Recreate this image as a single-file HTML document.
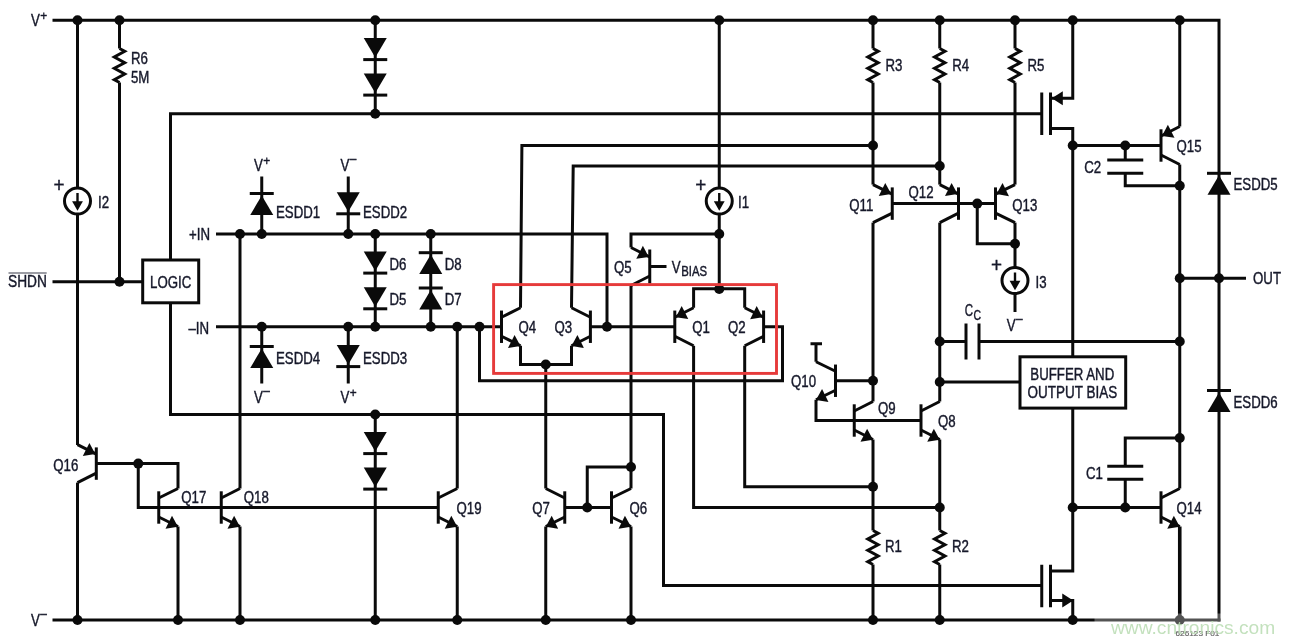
<!DOCTYPE html>
<html><head><meta charset="utf-8"><title>Schematic</title>
<style>
html,body{margin:0;padding:0;background:#fff;}
svg{display:block;will-change:transform;}
text{font-family:"Liberation Sans",sans-serif;}
</style></head>
<body>
<svg width="1295" height="644" viewBox="0 0 1295 644">
<rect width="1295" height="644" fill="#fff"/>
<path d="M52.50 20.20 L1219.00 20.20 L1219.00 621.50" fill="none" stroke="#0a0a0a" stroke-width="3.0" stroke-linecap="butt" stroke-linejoin="miter"/>
<path d="M52.50 620.00 L1220.50 620.00" fill="none" stroke="#0a0a0a" stroke-width="3.0" stroke-linecap="butt" stroke-linejoin="miter"/>
<text transform="translate(31.00 25.80) scale(0.85 1)" font-size="15.6" fill="#16182a" text-anchor="start" font-weight="normal" stroke="#16182a" stroke-width="0.4" >V</text>
<text transform="translate(40.30 20.10) scale(0.88 1)" font-size="13.5" fill="#16182a" text-anchor="start" font-weight="normal" stroke="#16182a" stroke-width="0.4" >+</text>
<text transform="translate(31.00 626.00) scale(0.85 1)" font-size="15.6" fill="#16182a" text-anchor="start" font-weight="normal" stroke="#16182a" stroke-width="0.4" >V</text>
<text transform="translate(40.30 618.00) scale(0.88 1)" font-size="13.5" fill="#16182a" text-anchor="start" font-weight="normal" stroke="#16182a" stroke-width="0.4" >–</text>
<path d="M77.50 20.20 L77.50 445.00" fill="none" stroke="#0a0a0a" stroke-width="3.0" stroke-linecap="butt" stroke-linejoin="miter"/>
<circle cx="77.50" cy="201.00" r="13" fill="#fff" stroke="#0a0a0a" stroke-width="3"/>
<path d="M77.50 193.00 L77.50 203.00" fill="none" stroke="#0a0a0a" stroke-width="2.4" stroke-linecap="butt" stroke-linejoin="miter"/>
<polygon points="72.10,201.30 82.90,201.30 77.50,210.80" fill="#0a0a0a"/>
<text transform="translate(59.00 192.10) scale(0.9 1)" font-size="21" fill="#16182a" text-anchor="middle" font-weight="normal" stroke="#16182a" stroke-width="0.4" >+</text>
<text transform="translate(98.00 208.20) scale(0.85 1)" font-size="15.6" fill="#16182a" text-anchor="start" font-weight="normal" stroke="#16182a" stroke-width="0.4" >I2</text>
<path d="M119.50 20.20 L119.50 48.50" fill="none" stroke="#0a0a0a" stroke-width="3.0" stroke-linecap="butt" stroke-linejoin="miter"/>
<path d="M119.50 48.50 L124.70 51.30 L114.30 57.00 L124.70 62.70 L114.30 68.30 L124.70 74.00 L114.30 79.70 L119.50 82.50" fill="none" stroke="#0a0a0a" stroke-width="3.0" stroke-linecap="butt" stroke-linejoin="miter"/>
<path d="M119.50 82.50 L119.50 281.75" fill="none" stroke="#0a0a0a" stroke-width="3.0" stroke-linecap="butt" stroke-linejoin="miter"/>
<text transform="translate(131.00 64.10) scale(0.85 1)" font-size="15.6" fill="#16182a" text-anchor="start" font-weight="normal" stroke="#16182a" stroke-width="0.4" >R6</text>
<text transform="translate(131.00 83.10) scale(0.85 1)" font-size="15.6" fill="#16182a" text-anchor="start" font-weight="normal" stroke="#16182a" stroke-width="0.4" >5M</text>
<path d="M52.50 281.75 L142.70 281.75" fill="none" stroke="#0a0a0a" stroke-width="3.0" stroke-linecap="butt" stroke-linejoin="miter"/>
<text transform="translate(8.00 286.80) scale(0.88 1)" font-size="15.6" fill="#16182a" text-anchor="start" font-weight="normal" stroke="#16182a" stroke-width="0.4" >SHDN</text>
<path d="M8.50 273.00 L46.70 273.00" fill="none" stroke="#3a3c4a" stroke-width="1.2" stroke-linecap="butt" stroke-linejoin="miter"/>
<rect x="142.7" y="260" width="56" height="42.8" fill="#fff" stroke="#0a0a0a" stroke-width="3.0"/>
<text transform="translate(170.70 287.80) scale(0.85 1)" font-size="15.6" fill="#16182a" text-anchor="middle" font-weight="normal" stroke="#16182a" stroke-width="0.4" >LOGIC</text>
<path d="M1041.75 113.75 L170.50 113.75 L170.50 260.00" fill="none" stroke="#0a0a0a" stroke-width="3.0" stroke-linecap="butt" stroke-linejoin="miter"/>
<path d="M170.50 303.50 L170.50 414.50 L663.50 414.50 L663.50 585.50 L1041.75 585.50" fill="none" stroke="#0a0a0a" stroke-width="3.0" stroke-linecap="butt" stroke-linejoin="miter"/>
<path d="M375.25 20.20 L375.25 113.75" fill="none" stroke="#0a0a0a" stroke-width="3.0" stroke-linecap="butt" stroke-linejoin="miter"/>
<polygon points="363.75,38.00 386.75,38.00 375.25,57.50" fill="#0a0a0a"/>
<path d="M363.25 59.60 L387.25 59.60" fill="none" stroke="#0a0a0a" stroke-width="3.0" stroke-linecap="butt" stroke-linejoin="miter"/>
<polygon points="363.75,73.50 386.75,73.50 375.25,93.00" fill="#0a0a0a"/>
<path d="M363.25 95.10 L387.25 95.10" fill="none" stroke="#0a0a0a" stroke-width="3.0" stroke-linecap="butt" stroke-linejoin="miter"/>
<path d="M375.25 414.50 L375.25 620.00" fill="none" stroke="#0a0a0a" stroke-width="3.0" stroke-linecap="butt" stroke-linejoin="miter"/>
<polygon points="363.75,432.00 386.75,432.00 375.25,451.50" fill="#0a0a0a"/>
<path d="M363.25 453.60 L387.25 453.60" fill="none" stroke="#0a0a0a" stroke-width="3.0" stroke-linecap="butt" stroke-linejoin="miter"/>
<polygon points="363.75,467.50 386.75,467.50 375.25,487.00" fill="#0a0a0a"/>
<path d="M363.25 489.10 L387.25 489.10" fill="none" stroke="#0a0a0a" stroke-width="3.0" stroke-linecap="butt" stroke-linejoin="miter"/>
<path d="M216.00 234.00 L607.00 234.00 L607.00 326.75" fill="none" stroke="#0a0a0a" stroke-width="3.0" stroke-linecap="butt" stroke-linejoin="miter"/>
<text transform="translate(189.00 240.30) scale(0.85 1)" font-size="15.6" fill="#16182a" text-anchor="start" font-weight="normal" stroke="#16182a" stroke-width="0.4" >+IN</text>
<path d="M216.00 326.75 L501.50 326.75" fill="none" stroke="#0a0a0a" stroke-width="3.0" stroke-linecap="butt" stroke-linejoin="miter"/>
<text transform="translate(188.50 333.70) scale(0.85 1)" font-size="15.6" fill="#16182a" text-anchor="start" font-weight="normal" stroke="#16182a" stroke-width="0.4" >–IN</text>
<path d="M240.00 234.00 L240.00 488.50" fill="none" stroke="#0a0a0a" stroke-width="3.0" stroke-linecap="butt" stroke-linejoin="miter"/>
<path d="M261.75 176.50 L261.75 234.00" fill="none" stroke="#0a0a0a" stroke-width="3.0" stroke-linecap="butt" stroke-linejoin="miter"/>
<path d="M249.75 193.50 L273.75 193.50" fill="none" stroke="#0a0a0a" stroke-width="3.0" stroke-linecap="butt" stroke-linejoin="miter"/>
<polygon points="261.75,195.40 250.25,214.90 273.25,214.90" fill="#0a0a0a"/>
<text transform="translate(276.00 217.80) scale(0.85 1)" font-size="15.6" fill="#16182a" text-anchor="start" font-weight="normal" stroke="#16182a" stroke-width="0.4" >ESDD1</text>
<text transform="translate(254.00 170.50) scale(0.85 1)" font-size="15.6" fill="#16182a" text-anchor="start" font-weight="normal" stroke="#16182a" stroke-width="0.4" >V</text>
<text transform="translate(263.30 164.80) scale(0.88 1)" font-size="13.5" fill="#16182a" text-anchor="start" font-weight="normal" stroke="#16182a" stroke-width="0.4" >+</text>
<path d="M348.25 176.50 L348.25 234.00" fill="none" stroke="#0a0a0a" stroke-width="3.0" stroke-linecap="butt" stroke-linejoin="miter"/>
<polygon points="336.75,192.20 359.75,192.20 348.25,211.70" fill="#0a0a0a"/>
<path d="M336.25 213.80 L360.25 213.80" fill="none" stroke="#0a0a0a" stroke-width="3.0" stroke-linecap="butt" stroke-linejoin="miter"/>
<text transform="translate(363.00 217.80) scale(0.85 1)" font-size="15.6" fill="#16182a" text-anchor="start" font-weight="normal" stroke="#16182a" stroke-width="0.4" >ESDD2</text>
<text transform="translate(340.50 170.50) scale(0.85 1)" font-size="15.6" fill="#16182a" text-anchor="start" font-weight="normal" stroke="#16182a" stroke-width="0.4" >V</text>
<text transform="translate(349.80 162.50) scale(0.88 1)" font-size="13.5" fill="#16182a" text-anchor="start" font-weight="normal" stroke="#16182a" stroke-width="0.4" >–</text>
<path d="M261.75 326.75 L261.75 383.50" fill="none" stroke="#0a0a0a" stroke-width="3.0" stroke-linecap="butt" stroke-linejoin="miter"/>
<path d="M249.75 346.50 L273.75 346.50" fill="none" stroke="#0a0a0a" stroke-width="3.0" stroke-linecap="butt" stroke-linejoin="miter"/>
<polygon points="261.75,348.40 250.25,367.90 273.25,367.90" fill="#0a0a0a"/>
<text transform="translate(276.00 363.80) scale(0.85 1)" font-size="15.6" fill="#16182a" text-anchor="start" font-weight="normal" stroke="#16182a" stroke-width="0.4" >ESDD4</text>
<text transform="translate(254.00 403.00) scale(0.85 1)" font-size="15.6" fill="#16182a" text-anchor="start" font-weight="normal" stroke="#16182a" stroke-width="0.4" >V</text>
<text transform="translate(263.30 395.00) scale(0.88 1)" font-size="13.5" fill="#16182a" text-anchor="start" font-weight="normal" stroke="#16182a" stroke-width="0.4" >–</text>
<path d="M348.25 326.75 L348.25 383.50" fill="none" stroke="#0a0a0a" stroke-width="3.0" stroke-linecap="butt" stroke-linejoin="miter"/>
<polygon points="336.75,345.00 359.75,345.00 348.25,364.50" fill="#0a0a0a"/>
<path d="M336.25 366.60 L360.25 366.60" fill="none" stroke="#0a0a0a" stroke-width="3.0" stroke-linecap="butt" stroke-linejoin="miter"/>
<text transform="translate(363.00 363.80) scale(0.85 1)" font-size="15.6" fill="#16182a" text-anchor="start" font-weight="normal" stroke="#16182a" stroke-width="0.4" >ESDD3</text>
<text transform="translate(340.50 403.00) scale(0.85 1)" font-size="15.6" fill="#16182a" text-anchor="start" font-weight="normal" stroke="#16182a" stroke-width="0.4" >V</text>
<text transform="translate(349.80 397.30) scale(0.88 1)" font-size="13.5" fill="#16182a" text-anchor="start" font-weight="normal" stroke="#16182a" stroke-width="0.4" >+</text>
<path d="M375.25 234.00 L375.25 326.75" fill="none" stroke="#0a0a0a" stroke-width="3.0" stroke-linecap="butt" stroke-linejoin="miter"/>
<polygon points="363.75,251.50 386.75,251.50 375.25,271.00" fill="#0a0a0a"/>
<path d="M363.25 273.10 L387.25 273.10" fill="none" stroke="#0a0a0a" stroke-width="3.0" stroke-linecap="butt" stroke-linejoin="miter"/>
<polygon points="363.75,287.20 386.75,287.20 375.25,306.70" fill="#0a0a0a"/>
<path d="M363.25 308.80 L387.25 308.80" fill="none" stroke="#0a0a0a" stroke-width="3.0" stroke-linecap="butt" stroke-linejoin="miter"/>
<text transform="translate(389.50 269.80) scale(0.85 1)" font-size="15.6" fill="#16182a" text-anchor="start" font-weight="normal" stroke="#16182a" stroke-width="0.4" >D6</text>
<text transform="translate(389.50 305.00) scale(0.85 1)" font-size="15.6" fill="#16182a" text-anchor="start" font-weight="normal" stroke="#16182a" stroke-width="0.4" >D5</text>
<path d="M430.75 234.00 L430.75 326.75" fill="none" stroke="#0a0a0a" stroke-width="3.0" stroke-linecap="butt" stroke-linejoin="miter"/>
<path d="M418.75 252.70 L442.75 252.70" fill="none" stroke="#0a0a0a" stroke-width="3.0" stroke-linecap="butt" stroke-linejoin="miter"/>
<polygon points="430.75,254.60 419.25,274.10 442.25,274.10" fill="#0a0a0a"/>
<path d="M418.75 288.00 L442.75 288.00" fill="none" stroke="#0a0a0a" stroke-width="3.0" stroke-linecap="butt" stroke-linejoin="miter"/>
<polygon points="430.75,289.90 419.25,309.40 442.25,309.40" fill="#0a0a0a"/>
<text transform="translate(444.70 269.80) scale(0.85 1)" font-size="15.6" fill="#16182a" text-anchor="start" font-weight="normal" stroke="#16182a" stroke-width="0.4" >D8</text>
<text transform="translate(444.70 305.00) scale(0.85 1)" font-size="15.6" fill="#16182a" text-anchor="start" font-weight="normal" stroke="#16182a" stroke-width="0.4" >D7</text>
<path d="M457.25 326.75 L457.25 488.50" fill="none" stroke="#0a0a0a" stroke-width="3.0" stroke-linecap="butt" stroke-linejoin="miter"/>
<path d="M479.50 326.75 L479.50 380.75 L782.50 380.75 L782.50 326.75 L763.60 326.75" fill="none" stroke="#0a0a0a" stroke-width="3.0" stroke-linecap="butt" stroke-linejoin="miter"/>
<path d="M501.50 310.55 L501.50 342.95" fill="none" stroke="#0a0a0a" stroke-width="3.0" stroke-linecap="butt" stroke-linejoin="miter"/>
<path d="M520.50 307.75 L501.50 317.25" fill="none" stroke="#0a0a0a" stroke-width="3.0" stroke-linecap="butt" stroke-linejoin="miter"/>
<path d="M520.50 345.75 L501.50 336.25" fill="none" stroke="#0a0a0a" stroke-width="3.0" stroke-linecap="butt" stroke-linejoin="miter"/>
<polygon points="520.50,346.05 508.02,347.97 514.55,334.91" fill="#0a0a0a"/>
<path d="M520.50 307.75 L521.90 145.50 L873.00 145.50" fill="none" stroke="#0a0a0a" stroke-width="3.0" stroke-linecap="butt" stroke-linejoin="miter"/>
<text transform="translate(518.50 332.50) scale(0.85 1)" font-size="15.6" fill="#16182a" text-anchor="start" font-weight="normal" stroke="#16182a" stroke-width="0.4" >Q4</text>
<path d="M590.40 310.55 L590.40 342.95" fill="none" stroke="#0a0a0a" stroke-width="3.0" stroke-linecap="butt" stroke-linejoin="miter"/>
<path d="M571.50 307.75 L590.40 317.25" fill="none" stroke="#0a0a0a" stroke-width="3.0" stroke-linecap="butt" stroke-linejoin="miter"/>
<path d="M571.50 345.75 L590.40 336.25" fill="none" stroke="#0a0a0a" stroke-width="3.0" stroke-linecap="butt" stroke-linejoin="miter"/>
<polygon points="571.50,346.05 577.42,334.90 583.98,347.95" fill="#0a0a0a"/>
<path d="M571.50 307.75 L573.20 166.00 L939.75 166.00" fill="none" stroke="#0a0a0a" stroke-width="3.0" stroke-linecap="butt" stroke-linejoin="miter"/>
<text transform="translate(554.50 332.50) scale(0.85 1)" font-size="15.6" fill="#16182a" text-anchor="start" font-weight="normal" stroke="#16182a" stroke-width="0.4" >Q3</text>
<path d="M520.50 345.75 L520.50 364.50 L571.50 364.50 L571.50 345.75" fill="none" stroke="#0a0a0a" stroke-width="3.0" stroke-linecap="butt" stroke-linejoin="miter"/>
<path d="M545.75 364.50 L545.75 488.50" fill="none" stroke="#0a0a0a" stroke-width="3.0" stroke-linecap="butt" stroke-linejoin="miter"/>
<path d="M590.40 326.75 L674.80 326.75" fill="none" stroke="#0a0a0a" stroke-width="3.0" stroke-linecap="butt" stroke-linejoin="miter"/>
<path d="M674.80 310.55 L674.80 342.95" fill="none" stroke="#0a0a0a" stroke-width="3.0" stroke-linecap="butt" stroke-linejoin="miter"/>
<path d="M693.60 307.75 L674.80 317.25" fill="none" stroke="#0a0a0a" stroke-width="3.0" stroke-linecap="butt" stroke-linejoin="miter"/>
<path d="M693.60 345.75 L674.80 336.25" fill="none" stroke="#0a0a0a" stroke-width="3.0" stroke-linecap="butt" stroke-linejoin="miter"/>
<polygon points="675.80,317.25 681.70,306.09 688.29,319.12" fill="#0a0a0a"/>
<path d="M763.60 310.55 L763.60 342.95" fill="none" stroke="#0a0a0a" stroke-width="3.0" stroke-linecap="butt" stroke-linejoin="miter"/>
<path d="M744.70 307.75 L763.60 317.25" fill="none" stroke="#0a0a0a" stroke-width="3.0" stroke-linecap="butt" stroke-linejoin="miter"/>
<path d="M744.70 345.75 L763.60 336.25" fill="none" stroke="#0a0a0a" stroke-width="3.0" stroke-linecap="butt" stroke-linejoin="miter"/>
<polygon points="762.60,317.25 750.12,319.15 756.68,306.10" fill="#0a0a0a"/>
<path d="M693.60 307.75 L693.60 288.70 L744.70 288.70 L744.70 307.75" fill="none" stroke="#0a0a0a" stroke-width="3.0" stroke-linecap="butt" stroke-linejoin="miter"/>
<text transform="translate(692.30 333.20) scale(0.85 1)" font-size="15.6" fill="#16182a" text-anchor="start" font-weight="normal" stroke="#16182a" stroke-width="0.4" >Q1</text>
<text transform="translate(728.00 333.20) scale(0.85 1)" font-size="15.6" fill="#16182a" text-anchor="start" font-weight="normal" stroke="#16182a" stroke-width="0.4" >Q2</text>
<path d="M693.60 345.75 L693.60 507.50 L939.75 507.50" fill="none" stroke="#0a0a0a" stroke-width="3.0" stroke-linecap="butt" stroke-linejoin="miter"/>
<path d="M744.70 345.75 L744.70 486.75 L873.00 486.75" fill="none" stroke="#0a0a0a" stroke-width="3.0" stroke-linecap="butt" stroke-linejoin="miter"/>
<path d="M719.25 20.20 L719.25 289.00" fill="none" stroke="#0a0a0a" stroke-width="3.0" stroke-linecap="butt" stroke-linejoin="miter"/>
<circle cx="719.25" cy="201.00" r="13" fill="#fff" stroke="#0a0a0a" stroke-width="3"/>
<path d="M719.25 193.00 L719.25 203.00" fill="none" stroke="#0a0a0a" stroke-width="2.4" stroke-linecap="butt" stroke-linejoin="miter"/>
<polygon points="713.85,201.30 724.65,201.30 719.25,210.80" fill="#0a0a0a"/>
<text transform="translate(700.75 192.10) scale(0.9 1)" font-size="21" fill="#16182a" text-anchor="middle" font-weight="normal" stroke="#16182a" stroke-width="0.4" >+</text>
<text transform="translate(738.00 208.20) scale(0.85 1)" font-size="15.6" fill="#16182a" text-anchor="start" font-weight="normal" stroke="#16182a" stroke-width="0.4" >I1</text>
<path d="M719.25 234.00 L631.00 234.00 L631.00 247.50" fill="none" stroke="#0a0a0a" stroke-width="3.0" stroke-linecap="butt" stroke-linejoin="miter"/>
<path d="M649.75 249.50 L649.75 283.50" fill="none" stroke="#0a0a0a" stroke-width="3.0" stroke-linecap="butt" stroke-linejoin="miter"/>
<path d="M631.00 247.50 L649.75 257.00" fill="none" stroke="#0a0a0a" stroke-width="3.0" stroke-linecap="butt" stroke-linejoin="miter"/>
<path d="M631.00 285.50 L649.75 276.00" fill="none" stroke="#0a0a0a" stroke-width="3.0" stroke-linecap="butt" stroke-linejoin="miter"/>
<polygon points="648.75,257.00 636.26,258.86 642.86,245.83" fill="#0a0a0a"/>
<path d="M649.75 266.50 L666.50 266.50" fill="none" stroke="#0a0a0a" stroke-width="3.0" stroke-linecap="butt" stroke-linejoin="miter"/>
<path d="M631.00 285.50 L631.00 467.00" fill="none" stroke="#0a0a0a" stroke-width="3.0" stroke-linecap="butt" stroke-linejoin="miter"/>
<text transform="translate(614.00 272.80) scale(0.85 1)" font-size="15.6" fill="#16182a" text-anchor="start" font-weight="normal" stroke="#16182a" stroke-width="0.4" >Q5</text>
<text transform="translate(671.70 272.80) scale(0.85 1)" font-size="15.6" fill="#16182a" text-anchor="start" font-weight="normal" stroke="#16182a" stroke-width="0.4" >V</text>
<text transform="translate(681.30 276.00) scale(0.81 1)" font-size="14" fill="#16182a" text-anchor="start" font-weight="normal" stroke="#16182a" stroke-width="0.4" >BIAS</text>
<path d="M96.30 447.40 L96.30 479.80" fill="none" stroke="#0a0a0a" stroke-width="3.0" stroke-linecap="butt" stroke-linejoin="miter"/>
<path d="M77.50 444.60 L96.30 454.10" fill="none" stroke="#0a0a0a" stroke-width="3.0" stroke-linecap="butt" stroke-linejoin="miter"/>
<path d="M77.50 482.60 L96.30 473.10" fill="none" stroke="#0a0a0a" stroke-width="3.0" stroke-linecap="butt" stroke-linejoin="miter"/>
<polygon points="95.30,454.10 82.81,455.97 89.40,442.94" fill="#0a0a0a"/>
<path d="M77.50 482.60 L77.50 620.00" fill="none" stroke="#0a0a0a" stroke-width="3.0" stroke-linecap="butt" stroke-linejoin="miter"/>
<path d="M96.30 463.60 L178.00 463.60 L178.00 488.50" fill="none" stroke="#0a0a0a" stroke-width="3.0" stroke-linecap="butt" stroke-linejoin="miter"/>
<path d="M138.25 463.60 L138.25 507.50 L438.25 507.50" fill="none" stroke="#0a0a0a" stroke-width="3.0" stroke-linecap="butt" stroke-linejoin="miter"/>
<text transform="translate(53.20 471.30) scale(0.85 1)" font-size="15.6" fill="#16182a" text-anchor="start" font-weight="normal" stroke="#16182a" stroke-width="0.4" >Q16</text>
<path d="M158.75 491.30 L158.75 523.70" fill="none" stroke="#0a0a0a" stroke-width="3.0" stroke-linecap="butt" stroke-linejoin="miter"/>
<path d="M178.00 488.50 L158.75 498.00" fill="none" stroke="#0a0a0a" stroke-width="3.0" stroke-linecap="butt" stroke-linejoin="miter"/>
<path d="M178.00 526.50 L158.75 517.00" fill="none" stroke="#0a0a0a" stroke-width="3.0" stroke-linecap="butt" stroke-linejoin="miter"/>
<polygon points="178.00,526.80 165.53,528.79 171.99,515.70" fill="#0a0a0a"/>
<path d="M178.00 526.50 L178.00 620.00" fill="none" stroke="#0a0a0a" stroke-width="3.0" stroke-linecap="butt" stroke-linejoin="miter"/>
<text transform="translate(181.30 502.50) scale(0.85 1)" font-size="15.6" fill="#16182a" text-anchor="start" font-weight="normal" stroke="#16182a" stroke-width="0.4" >Q17</text>
<path d="M221.25 491.30 L221.25 523.70" fill="none" stroke="#0a0a0a" stroke-width="3.0" stroke-linecap="butt" stroke-linejoin="miter"/>
<path d="M240.00 488.50 L221.25 498.00" fill="none" stroke="#0a0a0a" stroke-width="3.0" stroke-linecap="butt" stroke-linejoin="miter"/>
<path d="M240.00 526.50 L221.25 517.00" fill="none" stroke="#0a0a0a" stroke-width="3.0" stroke-linecap="butt" stroke-linejoin="miter"/>
<polygon points="240.00,526.80 227.51,528.66 234.11,515.63" fill="#0a0a0a"/>
<path d="M240.00 526.50 L240.00 620.00" fill="none" stroke="#0a0a0a" stroke-width="3.0" stroke-linecap="butt" stroke-linejoin="miter"/>
<text transform="translate(243.70 502.50) scale(0.85 1)" font-size="15.6" fill="#16182a" text-anchor="start" font-weight="normal" stroke="#16182a" stroke-width="0.4" >Q18</text>
<path d="M438.25 491.30 L438.25 523.70" fill="none" stroke="#0a0a0a" stroke-width="3.0" stroke-linecap="butt" stroke-linejoin="miter"/>
<path d="M457.25 488.50 L438.25 498.00" fill="none" stroke="#0a0a0a" stroke-width="3.0" stroke-linecap="butt" stroke-linejoin="miter"/>
<path d="M457.25 526.50 L438.25 517.00" fill="none" stroke="#0a0a0a" stroke-width="3.0" stroke-linecap="butt" stroke-linejoin="miter"/>
<polygon points="457.25,526.80 444.77,528.72 451.30,515.66" fill="#0a0a0a"/>
<path d="M457.25 526.50 L457.25 620.00" fill="none" stroke="#0a0a0a" stroke-width="3.0" stroke-linecap="butt" stroke-linejoin="miter"/>
<text transform="translate(456.50 513.80) scale(0.85 1)" font-size="15.6" fill="#16182a" text-anchor="start" font-weight="normal" stroke="#16182a" stroke-width="0.4" >Q19</text>
<path d="M564.75 491.30 L564.75 523.70" fill="none" stroke="#0a0a0a" stroke-width="3.0" stroke-linecap="butt" stroke-linejoin="miter"/>
<path d="M545.75 488.50 L564.75 498.00" fill="none" stroke="#0a0a0a" stroke-width="3.0" stroke-linecap="butt" stroke-linejoin="miter"/>
<path d="M545.75 526.50 L564.75 517.00" fill="none" stroke="#0a0a0a" stroke-width="3.0" stroke-linecap="butt" stroke-linejoin="miter"/>
<polygon points="545.75,526.80 551.70,515.66 558.23,528.72" fill="#0a0a0a"/>
<path d="M545.75 526.50 L545.75 620.00" fill="none" stroke="#0a0a0a" stroke-width="3.0" stroke-linecap="butt" stroke-linejoin="miter"/>
<text transform="translate(532.30 513.80) scale(0.85 1)" font-size="15.6" fill="#16182a" text-anchor="start" font-weight="normal" stroke="#16182a" stroke-width="0.4" >Q7</text>
<path d="M611.50 491.30 L611.50 523.70" fill="none" stroke="#0a0a0a" stroke-width="3.0" stroke-linecap="butt" stroke-linejoin="miter"/>
<path d="M631.00 488.50 L611.50 498.00" fill="none" stroke="#0a0a0a" stroke-width="3.0" stroke-linecap="butt" stroke-linejoin="miter"/>
<path d="M631.00 526.50 L611.50 517.00" fill="none" stroke="#0a0a0a" stroke-width="3.0" stroke-linecap="butt" stroke-linejoin="miter"/>
<polygon points="631.00,526.80 618.54,528.85 624.94,515.73" fill="#0a0a0a"/>
<path d="M631.00 526.50 L631.00 620.00" fill="none" stroke="#0a0a0a" stroke-width="3.0" stroke-linecap="butt" stroke-linejoin="miter"/>
<text transform="translate(629.50 513.80) scale(0.85 1)" font-size="15.6" fill="#16182a" text-anchor="start" font-weight="normal" stroke="#16182a" stroke-width="0.4" >Q6</text>
<path d="M564.75 507.50 L611.50 507.50" fill="none" stroke="#0a0a0a" stroke-width="3.0" stroke-linecap="butt" stroke-linejoin="miter"/>
<path d="M587.25 507.50 L587.25 467.00 L631.00 467.00 L631.00 488.50" fill="none" stroke="#0a0a0a" stroke-width="3.0" stroke-linecap="butt" stroke-linejoin="miter"/>
<path d="M873.00 20.20 L873.00 48.50" fill="none" stroke="#0a0a0a" stroke-width="3.0" stroke-linecap="butt" stroke-linejoin="miter"/>
<path d="M873.00 48.50 L878.20 51.30 L867.80 57.00 L878.20 62.70 L867.80 68.30 L878.20 74.00 L867.80 79.70 L873.00 82.50" fill="none" stroke="#0a0a0a" stroke-width="3.0" stroke-linecap="butt" stroke-linejoin="miter"/>
<text transform="translate(885.50 71.30) scale(0.85 1)" font-size="15.6" fill="#16182a" text-anchor="start" font-weight="normal" stroke="#16182a" stroke-width="0.4" >R3</text>
<path d="M939.75 20.20 L939.75 48.50" fill="none" stroke="#0a0a0a" stroke-width="3.0" stroke-linecap="butt" stroke-linejoin="miter"/>
<path d="M939.75 48.50 L944.95 51.30 L934.55 57.00 L944.95 62.70 L934.55 68.30 L944.95 74.00 L934.55 79.70 L939.75 82.50" fill="none" stroke="#0a0a0a" stroke-width="3.0" stroke-linecap="butt" stroke-linejoin="miter"/>
<text transform="translate(952.25 71.30) scale(0.85 1)" font-size="15.6" fill="#16182a" text-anchor="start" font-weight="normal" stroke="#16182a" stroke-width="0.4" >R4</text>
<path d="M1015.00 20.20 L1015.00 48.50" fill="none" stroke="#0a0a0a" stroke-width="3.0" stroke-linecap="butt" stroke-linejoin="miter"/>
<path d="M1015.00 48.50 L1020.20 51.30 L1009.80 57.00 L1020.20 62.70 L1009.80 68.30 L1020.20 74.00 L1009.80 79.70 L1015.00 82.50" fill="none" stroke="#0a0a0a" stroke-width="3.0" stroke-linecap="butt" stroke-linejoin="miter"/>
<text transform="translate(1027.50 71.30) scale(0.85 1)" font-size="15.6" fill="#16182a" text-anchor="start" font-weight="normal" stroke="#16182a" stroke-width="0.4" >R5</text>
<path d="M873.00 82.50 L873.00 184.60" fill="none" stroke="#0a0a0a" stroke-width="3.0" stroke-linecap="butt" stroke-linejoin="miter"/>
<path d="M939.75 82.50 L939.75 184.60" fill="none" stroke="#0a0a0a" stroke-width="3.0" stroke-linecap="butt" stroke-linejoin="miter"/>
<path d="M1015.00 82.50 L1015.00 184.60" fill="none" stroke="#0a0a0a" stroke-width="3.0" stroke-linecap="butt" stroke-linejoin="miter"/>
<path d="M892.25 187.40 L892.25 219.80" fill="none" stroke="#0a0a0a" stroke-width="3.0" stroke-linecap="butt" stroke-linejoin="miter"/>
<path d="M873.00 184.60 L892.25 194.10" fill="none" stroke="#0a0a0a" stroke-width="3.0" stroke-linecap="butt" stroke-linejoin="miter"/>
<path d="M873.00 222.60 L892.25 213.10" fill="none" stroke="#0a0a0a" stroke-width="3.0" stroke-linecap="butt" stroke-linejoin="miter"/>
<polygon points="891.25,194.10 878.78,196.09 885.24,183.00" fill="#0a0a0a"/>
<text transform="translate(849.30 210.50) scale(0.85 1)" font-size="15.6" fill="#16182a" text-anchor="start" font-weight="normal" stroke="#16182a" stroke-width="0.4" >Q11</text>
<path d="M958.50 187.40 L958.50 219.80" fill="none" stroke="#0a0a0a" stroke-width="3.0" stroke-linecap="butt" stroke-linejoin="miter"/>
<path d="M939.75 184.60 L958.50 194.10" fill="none" stroke="#0a0a0a" stroke-width="3.0" stroke-linecap="butt" stroke-linejoin="miter"/>
<path d="M939.75 222.60 L958.50 213.10" fill="none" stroke="#0a0a0a" stroke-width="3.0" stroke-linecap="butt" stroke-linejoin="miter"/>
<polygon points="957.50,194.10 945.01,195.96 951.61,182.93" fill="#0a0a0a"/>
<text transform="translate(908.50 197.50) scale(0.85 1)" font-size="15.6" fill="#16182a" text-anchor="start" font-weight="normal" stroke="#16182a" stroke-width="0.4" >Q12</text>
<path d="M995.50 187.40 L995.50 219.80" fill="none" stroke="#0a0a0a" stroke-width="3.0" stroke-linecap="butt" stroke-linejoin="miter"/>
<path d="M1015.00 184.60 L995.50 194.10" fill="none" stroke="#0a0a0a" stroke-width="3.0" stroke-linecap="butt" stroke-linejoin="miter"/>
<path d="M1015.00 222.60 L995.50 213.10" fill="none" stroke="#0a0a0a" stroke-width="3.0" stroke-linecap="butt" stroke-linejoin="miter"/>
<polygon points="996.50,194.10 1002.56,183.03 1008.96,196.15" fill="#0a0a0a"/>
<text transform="translate(1012.30 210.50) scale(0.85 1)" font-size="15.6" fill="#16182a" text-anchor="start" font-weight="normal" stroke="#16182a" stroke-width="0.4" >Q13</text>
<path d="M892.25 203.60 L995.50 203.60" fill="none" stroke="#0a0a0a" stroke-width="3.0" stroke-linecap="butt" stroke-linejoin="miter"/>
<path d="M977.25 203.60 L977.25 243.75 L1015.00 243.75" fill="none" stroke="#0a0a0a" stroke-width="3.0" stroke-linecap="butt" stroke-linejoin="miter"/>
<path d="M1015.00 222.60 L1015.00 312.00" fill="none" stroke="#0a0a0a" stroke-width="3.0" stroke-linecap="butt" stroke-linejoin="miter"/>
<circle cx="1015.00" cy="280.50" r="13" fill="#fff" stroke="#0a0a0a" stroke-width="3"/>
<path d="M1015.00 272.50 L1015.00 282.50" fill="none" stroke="#0a0a0a" stroke-width="2.4" stroke-linecap="butt" stroke-linejoin="miter"/>
<polygon points="1009.60,280.80 1020.40,280.80 1015.00,290.30" fill="#0a0a0a"/>
<text transform="translate(996.50 271.60) scale(0.9 1)" font-size="21" fill="#16182a" text-anchor="middle" font-weight="normal" stroke="#16182a" stroke-width="0.4" >+</text>
<text transform="translate(1035.50 287.70) scale(0.85 1)" font-size="15.6" fill="#16182a" text-anchor="start" font-weight="normal" stroke="#16182a" stroke-width="0.4" >I3</text>
<text transform="translate(1006.70 331.00) scale(0.85 1)" font-size="15.6" fill="#16182a" text-anchor="start" font-weight="normal" stroke="#16182a" stroke-width="0.4" >V</text>
<text transform="translate(1016.00 323.00) scale(0.88 1)" font-size="13.5" fill="#16182a" text-anchor="start" font-weight="normal" stroke="#16182a" stroke-width="0.4" >–</text>
<path d="M873.00 222.60 L873.00 401.50" fill="none" stroke="#0a0a0a" stroke-width="3.0" stroke-linecap="butt" stroke-linejoin="miter"/>
<path d="M939.75 222.60 L939.75 401.50" fill="none" stroke="#0a0a0a" stroke-width="3.0" stroke-linecap="butt" stroke-linejoin="miter"/>
<path d="M835.50 364.55 L835.50 396.95" fill="none" stroke="#0a0a0a" stroke-width="3.0" stroke-linecap="butt" stroke-linejoin="miter"/>
<path d="M816.00 361.75 L835.50 371.25" fill="none" stroke="#0a0a0a" stroke-width="3.0" stroke-linecap="butt" stroke-linejoin="miter"/>
<path d="M816.00 399.75 L835.50 390.25" fill="none" stroke="#0a0a0a" stroke-width="3.0" stroke-linecap="butt" stroke-linejoin="miter"/>
<polygon points="816.00,400.05 822.06,388.98 828.46,402.10" fill="#0a0a0a"/>
<path d="M810.50 343.75 L822.00 343.75" fill="none" stroke="#0a0a0a" stroke-width="3.0" stroke-linecap="butt" stroke-linejoin="miter"/>
<path d="M816.00 343.75 L816.00 361.75" fill="none" stroke="#0a0a0a" stroke-width="3.0" stroke-linecap="butt" stroke-linejoin="miter"/>
<path d="M835.50 380.75 L873.00 380.75" fill="none" stroke="#0a0a0a" stroke-width="3.0" stroke-linecap="butt" stroke-linejoin="miter"/>
<path d="M816.00 399.75 L816.00 420.50 L921.00 420.50" fill="none" stroke="#0a0a0a" stroke-width="3.0" stroke-linecap="butt" stroke-linejoin="miter"/>
<text transform="translate(791.00 387.30) scale(0.85 1)" font-size="15.6" fill="#16182a" text-anchor="start" font-weight="normal" stroke="#16182a" stroke-width="0.4" >Q10</text>
<path d="M854.25 404.30 L854.25 436.70" fill="none" stroke="#0a0a0a" stroke-width="3.0" stroke-linecap="butt" stroke-linejoin="miter"/>
<path d="M873.00 401.50 L854.25 411.00" fill="none" stroke="#0a0a0a" stroke-width="3.0" stroke-linecap="butt" stroke-linejoin="miter"/>
<path d="M873.00 439.50 L854.25 430.00" fill="none" stroke="#0a0a0a" stroke-width="3.0" stroke-linecap="butt" stroke-linejoin="miter"/>
<polygon points="873.00,439.80 860.51,441.66 867.11,428.63" fill="#0a0a0a"/>
<text transform="translate(878.00 414.30) scale(0.85 1)" font-size="15.6" fill="#16182a" text-anchor="start" font-weight="normal" stroke="#16182a" stroke-width="0.4" >Q9</text>
<path d="M921.00 404.30 L921.00 436.70" fill="none" stroke="#0a0a0a" stroke-width="3.0" stroke-linecap="butt" stroke-linejoin="miter"/>
<path d="M939.75 401.50 L921.00 411.00" fill="none" stroke="#0a0a0a" stroke-width="3.0" stroke-linecap="butt" stroke-linejoin="miter"/>
<path d="M939.75 439.50 L921.00 430.00" fill="none" stroke="#0a0a0a" stroke-width="3.0" stroke-linecap="butt" stroke-linejoin="miter"/>
<polygon points="939.75,439.80 927.26,441.66 933.86,428.63" fill="#0a0a0a"/>
<text transform="translate(938.00 426.80) scale(0.85 1)" font-size="15.6" fill="#16182a" text-anchor="start" font-weight="normal" stroke="#16182a" stroke-width="0.4" >Q8</text>
<path d="M873.00 439.50 L873.00 530.50" fill="none" stroke="#0a0a0a" stroke-width="3.0" stroke-linecap="butt" stroke-linejoin="miter"/>
<path d="M873.00 530.50 L878.20 533.30 L867.80 539.00 L878.20 544.70 L867.80 550.30 L878.20 556.00 L867.80 561.70 L873.00 564.50" fill="none" stroke="#0a0a0a" stroke-width="3.0" stroke-linecap="butt" stroke-linejoin="miter"/>
<path d="M873.00 564.50 L873.00 620.00" fill="none" stroke="#0a0a0a" stroke-width="3.0" stroke-linecap="butt" stroke-linejoin="miter"/>
<text transform="translate(885.00 552.30) scale(0.85 1)" font-size="15.6" fill="#16182a" text-anchor="start" font-weight="normal" stroke="#16182a" stroke-width="0.4" >R1</text>
<path d="M939.75 439.50 L939.75 530.50" fill="none" stroke="#0a0a0a" stroke-width="3.0" stroke-linecap="butt" stroke-linejoin="miter"/>
<path d="M939.75 530.50 L944.95 533.30 L934.55 539.00 L944.95 544.70 L934.55 550.30 L944.95 556.00 L934.55 561.70 L939.75 564.50" fill="none" stroke="#0a0a0a" stroke-width="3.0" stroke-linecap="butt" stroke-linejoin="miter"/>
<path d="M939.75 564.50 L939.75 620.00" fill="none" stroke="#0a0a0a" stroke-width="3.0" stroke-linecap="butt" stroke-linejoin="miter"/>
<text transform="translate(952.00 552.30) scale(0.85 1)" font-size="15.6" fill="#16182a" text-anchor="start" font-weight="normal" stroke="#16182a" stroke-width="0.4" >R2</text>
<path d="M939.75 341.50 L966.00 341.50" fill="none" stroke="#0a0a0a" stroke-width="3.0" stroke-linecap="butt" stroke-linejoin="miter"/>
<path d="M966.00 323.50 L966.00 359.50" fill="none" stroke="#0a0a0a" stroke-width="3.0" stroke-linecap="butt" stroke-linejoin="miter"/>
<path d="M979.00 323.50 L979.00 359.50" fill="none" stroke="#0a0a0a" stroke-width="3.0" stroke-linecap="butt" stroke-linejoin="miter"/>
<path d="M979.00 341.50 L1179.75 341.50" fill="none" stroke="#0a0a0a" stroke-width="3.0" stroke-linecap="butt" stroke-linejoin="miter"/>
<text transform="translate(964.70 316.10) scale(0.74 1)" font-size="15.6" fill="#16182a" text-anchor="start" font-weight="normal" stroke="#16182a" stroke-width="0.4" >C</text>
<text transform="translate(973.60 319.90) scale(0.72 1)" font-size="14.5" fill="#16182a" text-anchor="start" font-weight="normal" stroke="#16182a" stroke-width="0.4" >C</text>
<path d="M939.75 382.00 L1020.00 382.00" fill="none" stroke="#0a0a0a" stroke-width="3.0" stroke-linecap="butt" stroke-linejoin="miter"/>
<rect x="1020" y="356.8" width="105.7" height="51.3" fill="#fff" stroke="#0a0a0a" stroke-width="3.0"/>
<text transform="translate(1072.30 380.00) scale(0.85 1)" font-size="15.6" fill="#16182a" text-anchor="middle" font-weight="normal" stroke="#16182a" stroke-width="0.4" >BUFFER AND</text>
<text transform="translate(1072.30 398.00) scale(0.865 1)" font-size="15.6" fill="#16182a" text-anchor="middle" font-weight="normal" stroke="#16182a" stroke-width="0.4" >OUTPUT BIAS</text>
<path d="M1041.75 92.50 L1041.75 135.00" fill="none" stroke="#0a0a0a" stroke-width="3.0" stroke-linecap="butt" stroke-linejoin="miter"/>
<path d="M1050.50 92.50 L1050.50 135.00" fill="none" stroke="#0a0a0a" stroke-width="3.0" stroke-linecap="butt" stroke-linejoin="miter"/>
<path d="M1072.75 20.20 L1072.75 98.25 L1050.50 98.25" fill="none" stroke="#0a0a0a" stroke-width="3.0" stroke-linecap="butt" stroke-linejoin="miter"/>
<polygon points="1051.80,98.25 1062.80,91.25 1062.80,105.25" fill="#0a0a0a"/>
<path d="M1050.50 128.50 L1072.75 128.50 L1072.75 356.80" fill="none" stroke="#0a0a0a" stroke-width="3.0" stroke-linecap="butt" stroke-linejoin="miter"/>
<path d="M1041.75 564.75 L1041.75 607.25" fill="none" stroke="#0a0a0a" stroke-width="3.0" stroke-linecap="butt" stroke-linejoin="miter"/>
<path d="M1050.50 564.75 L1050.50 607.25" fill="none" stroke="#0a0a0a" stroke-width="3.0" stroke-linecap="butt" stroke-linejoin="miter"/>
<path d="M1072.75 408.00 L1072.75 571.00 L1050.50 571.00" fill="none" stroke="#0a0a0a" stroke-width="3.0" stroke-linecap="butt" stroke-linejoin="miter"/>
<path d="M1050.50 600.50 L1072.75 600.50 L1072.75 620.00" fill="none" stroke="#0a0a0a" stroke-width="3.0" stroke-linecap="butt" stroke-linejoin="miter"/>
<polygon points="1073.25,600.50 1062.25,607.50 1062.25,593.50" fill="#0a0a0a"/>
<path d="M1072.75 145.50 L1161.00 145.50" fill="none" stroke="#0a0a0a" stroke-width="3.0" stroke-linecap="butt" stroke-linejoin="miter"/>
<path d="M1161.00 129.30 L1161.00 161.70" fill="none" stroke="#0a0a0a" stroke-width="3.0" stroke-linecap="butt" stroke-linejoin="miter"/>
<path d="M1179.75 126.50 L1161.00 136.00" fill="none" stroke="#0a0a0a" stroke-width="3.0" stroke-linecap="butt" stroke-linejoin="miter"/>
<path d="M1179.75 164.50 L1161.00 155.00" fill="none" stroke="#0a0a0a" stroke-width="3.0" stroke-linecap="butt" stroke-linejoin="miter"/>
<polygon points="1162.00,136.00 1167.89,124.83 1174.49,137.86" fill="#0a0a0a"/>
<text transform="translate(1176.50 152.30) scale(0.85 1)" font-size="15.6" fill="#16182a" text-anchor="start" font-weight="normal" stroke="#16182a" stroke-width="0.4" >Q15</text>
<path d="M1179.75 20.20 L1179.75 126.50" fill="none" stroke="#0a0a0a" stroke-width="3.0" stroke-linecap="butt" stroke-linejoin="miter"/>
<path d="M1179.75 164.50 L1179.75 488.50" fill="none" stroke="#0a0a0a" stroke-width="3.0" stroke-linecap="butt" stroke-linejoin="miter"/>
<path d="M1125.25 145.50 L1125.25 160.00" fill="none" stroke="#0a0a0a" stroke-width="3.0" stroke-linecap="butt" stroke-linejoin="miter"/>
<path d="M1107.25 160.00 L1143.25 160.00" fill="none" stroke="#0a0a0a" stroke-width="3.0" stroke-linecap="butt" stroke-linejoin="miter"/>
<path d="M1107.25 173.20 L1143.25 173.20" fill="none" stroke="#0a0a0a" stroke-width="3.0" stroke-linecap="butt" stroke-linejoin="miter"/>
<path d="M1125.25 173.20 L1125.25 185.75 L1179.75 185.75" fill="none" stroke="#0a0a0a" stroke-width="3.0" stroke-linecap="butt" stroke-linejoin="miter"/>
<text transform="translate(1084.20 173.00) scale(0.85 1)" font-size="15.6" fill="#16182a" text-anchor="start" font-weight="normal" stroke="#16182a" stroke-width="0.4" >C2</text>
<path d="M1179.75 278.25 L1246.00 278.25" fill="none" stroke="#0a0a0a" stroke-width="3.0" stroke-linecap="butt" stroke-linejoin="miter"/>
<text transform="translate(1253.00 284.30) scale(0.85 1)" font-size="15.6" fill="#16182a" text-anchor="start" font-weight="normal" stroke="#16182a" stroke-width="0.4" >OUT</text>
<path d="M1207.00 173.30 L1231.00 173.30" fill="none" stroke="#0a0a0a" stroke-width="3.0" stroke-linecap="butt" stroke-linejoin="miter"/>
<polygon points="1219.00,175.20 1207.50,194.70 1230.50,194.70" fill="#0a0a0a"/>
<text transform="translate(1233.50 189.80) scale(0.85 1)" font-size="15.6" fill="#16182a" text-anchor="start" font-weight="normal" stroke="#16182a" stroke-width="0.4" >ESDD5</text>
<path d="M1207.00 390.50 L1231.00 390.50" fill="none" stroke="#0a0a0a" stroke-width="3.0" stroke-linecap="butt" stroke-linejoin="miter"/>
<polygon points="1219.00,392.40 1207.50,411.90 1230.50,411.90" fill="#0a0a0a"/>
<text transform="translate(1233.50 407.50) scale(0.85 1)" font-size="15.6" fill="#16182a" text-anchor="start" font-weight="normal" stroke="#16182a" stroke-width="0.4" >ESDD6</text>
<path d="M1072.75 507.50 L1161.00 507.50" fill="none" stroke="#0a0a0a" stroke-width="3.0" stroke-linecap="butt" stroke-linejoin="miter"/>
<path d="M1161.00 491.30 L1161.00 523.70" fill="none" stroke="#0a0a0a" stroke-width="3.0" stroke-linecap="butt" stroke-linejoin="miter"/>
<path d="M1179.75 488.50 L1161.00 498.00" fill="none" stroke="#0a0a0a" stroke-width="3.0" stroke-linecap="butt" stroke-linejoin="miter"/>
<path d="M1179.75 526.50 L1161.00 517.00" fill="none" stroke="#0a0a0a" stroke-width="3.0" stroke-linecap="butt" stroke-linejoin="miter"/>
<polygon points="1179.75,526.80 1167.26,528.66 1173.86,515.63" fill="#0a0a0a"/>
<text transform="translate(1176.50 513.80) scale(0.85 1)" font-size="15.6" fill="#16182a" text-anchor="start" font-weight="normal" stroke="#16182a" stroke-width="0.4" >Q14</text>
<path d="M1179.75 526.50 L1179.75 620.00" fill="none" stroke="#0a0a0a" stroke-width="3.6" stroke-linecap="butt" stroke-linejoin="miter"/>
<path d="M1179.75 438.00 L1125.25 438.00 L1125.25 466.30" fill="none" stroke="#0a0a0a" stroke-width="3.0" stroke-linecap="butt" stroke-linejoin="miter"/>
<path d="M1107.25 466.30 L1143.25 466.30" fill="none" stroke="#0a0a0a" stroke-width="3.0" stroke-linecap="butt" stroke-linejoin="miter"/>
<path d="M1107.25 479.30 L1143.25 479.30" fill="none" stroke="#0a0a0a" stroke-width="3.0" stroke-linecap="butt" stroke-linejoin="miter"/>
<path d="M1125.25 479.30 L1125.25 507.50" fill="none" stroke="#0a0a0a" stroke-width="3.0" stroke-linecap="butt" stroke-linejoin="miter"/>
<text transform="translate(1086.00 479.30) scale(0.85 1)" font-size="15.6" fill="#16182a" text-anchor="start" font-weight="normal" stroke="#16182a" stroke-width="0.4" >C1</text>
<circle cx="77.50" cy="20.20" r="5.0" fill="#0a0a0a"/>
<circle cx="119.50" cy="20.20" r="5.0" fill="#0a0a0a"/>
<circle cx="375.25" cy="20.20" r="5.0" fill="#0a0a0a"/>
<circle cx="719.25" cy="20.20" r="5.0" fill="#0a0a0a"/>
<circle cx="873.00" cy="20.20" r="5.0" fill="#0a0a0a"/>
<circle cx="939.75" cy="20.20" r="5.0" fill="#0a0a0a"/>
<circle cx="1015.00" cy="20.20" r="5.0" fill="#0a0a0a"/>
<circle cx="1072.75" cy="20.20" r="5.0" fill="#0a0a0a"/>
<circle cx="1179.75" cy="20.20" r="5.0" fill="#0a0a0a"/>
<circle cx="375.25" cy="113.75" r="5.0" fill="#0a0a0a"/>
<circle cx="873.00" cy="145.50" r="5.0" fill="#0a0a0a"/>
<circle cx="939.75" cy="166.00" r="5.0" fill="#0a0a0a"/>
<circle cx="1072.75" cy="145.50" r="5.0" fill="#0a0a0a"/>
<circle cx="1125.25" cy="145.50" r="5.0" fill="#0a0a0a"/>
<circle cx="1179.75" cy="185.75" r="5.0" fill="#0a0a0a"/>
<circle cx="977.25" cy="203.60" r="5.0" fill="#0a0a0a"/>
<circle cx="1015.00" cy="243.75" r="5.0" fill="#0a0a0a"/>
<circle cx="1179.75" cy="278.25" r="5.0" fill="#0a0a0a"/>
<circle cx="1219.00" cy="278.25" r="5.0" fill="#0a0a0a"/>
<circle cx="119.50" cy="281.75" r="5.0" fill="#0a0a0a"/>
<circle cx="240.00" cy="234.00" r="5.0" fill="#0a0a0a"/>
<circle cx="261.75" cy="234.00" r="5.0" fill="#0a0a0a"/>
<circle cx="348.25" cy="234.00" r="5.0" fill="#0a0a0a"/>
<circle cx="375.25" cy="234.00" r="5.0" fill="#0a0a0a"/>
<circle cx="430.75" cy="234.00" r="5.0" fill="#0a0a0a"/>
<circle cx="719.25" cy="234.00" r="5.0" fill="#0a0a0a"/>
<circle cx="719.25" cy="289.00" r="5.0" fill="#0a0a0a"/>
<circle cx="261.75" cy="326.75" r="5.0" fill="#0a0a0a"/>
<circle cx="348.25" cy="326.75" r="5.0" fill="#0a0a0a"/>
<circle cx="375.25" cy="326.75" r="5.0" fill="#0a0a0a"/>
<circle cx="430.75" cy="326.75" r="5.0" fill="#0a0a0a"/>
<circle cx="457.25" cy="326.75" r="5.0" fill="#0a0a0a"/>
<circle cx="479.50" cy="326.75" r="5.0" fill="#0a0a0a"/>
<circle cx="607.00" cy="326.75" r="5.0" fill="#0a0a0a"/>
<circle cx="545.75" cy="364.50" r="5.0" fill="#0a0a0a"/>
<circle cx="873.00" cy="380.75" r="5.0" fill="#0a0a0a"/>
<circle cx="939.75" cy="341.50" r="5.0" fill="#0a0a0a"/>
<circle cx="939.75" cy="382.00" r="5.0" fill="#0a0a0a"/>
<circle cx="1179.75" cy="341.50" r="5.0" fill="#0a0a0a"/>
<circle cx="375.25" cy="414.50" r="5.0" fill="#0a0a0a"/>
<circle cx="1179.75" cy="438.00" r="5.0" fill="#0a0a0a"/>
<circle cx="138.25" cy="463.60" r="5.0" fill="#0a0a0a"/>
<circle cx="631.00" cy="467.00" r="5.0" fill="#0a0a0a"/>
<circle cx="587.25" cy="507.50" r="5.0" fill="#0a0a0a"/>
<circle cx="873.00" cy="486.75" r="5.0" fill="#0a0a0a"/>
<circle cx="939.75" cy="507.50" r="5.0" fill="#0a0a0a"/>
<circle cx="1072.75" cy="507.50" r="5.0" fill="#0a0a0a"/>
<circle cx="1125.25" cy="507.50" r="5.0" fill="#0a0a0a"/>
<circle cx="77.50" cy="620.00" r="5.0" fill="#0a0a0a"/>
<circle cx="178.00" cy="620.00" r="5.0" fill="#0a0a0a"/>
<circle cx="240.00" cy="620.00" r="5.0" fill="#0a0a0a"/>
<circle cx="375.25" cy="620.00" r="5.0" fill="#0a0a0a"/>
<circle cx="457.25" cy="620.00" r="5.0" fill="#0a0a0a"/>
<circle cx="545.75" cy="620.00" r="5.0" fill="#0a0a0a"/>
<circle cx="631.00" cy="620.00" r="5.0" fill="#0a0a0a"/>
<circle cx="873.00" cy="620.00" r="5.0" fill="#0a0a0a"/>
<circle cx="939.75" cy="620.00" r="5.0" fill="#0a0a0a"/>
<circle cx="1072.75" cy="620.00" r="5.0" fill="#0a0a0a"/>
<circle cx="1179.75" cy="620.00" r="5.0" fill="#0a0a0a"/>
<rect x="493.6" y="284.6" width="282.9" height="88.8" fill="none" stroke="#e63a3a" stroke-width="2.9"/>
<text transform="translate(1175.50 636.30) scale(1.03 1)" font-size="8" fill="#1a1a1a" text-anchor="start" font-weight="normal" stroke="#1a1a1a" stroke-width="0.18" >626123 F01</text>
<rect x="1094.5" y="613.5" width="201" height="31" fill="#fff" opacity="0.3"/>
<text x="1111" y="634" font-size="19.2" fill="#b9dcb2" opacity="0.85" font-family="Liberation Sans, sans-serif">www.cntronics.com</text>
</svg>
</body></html>
